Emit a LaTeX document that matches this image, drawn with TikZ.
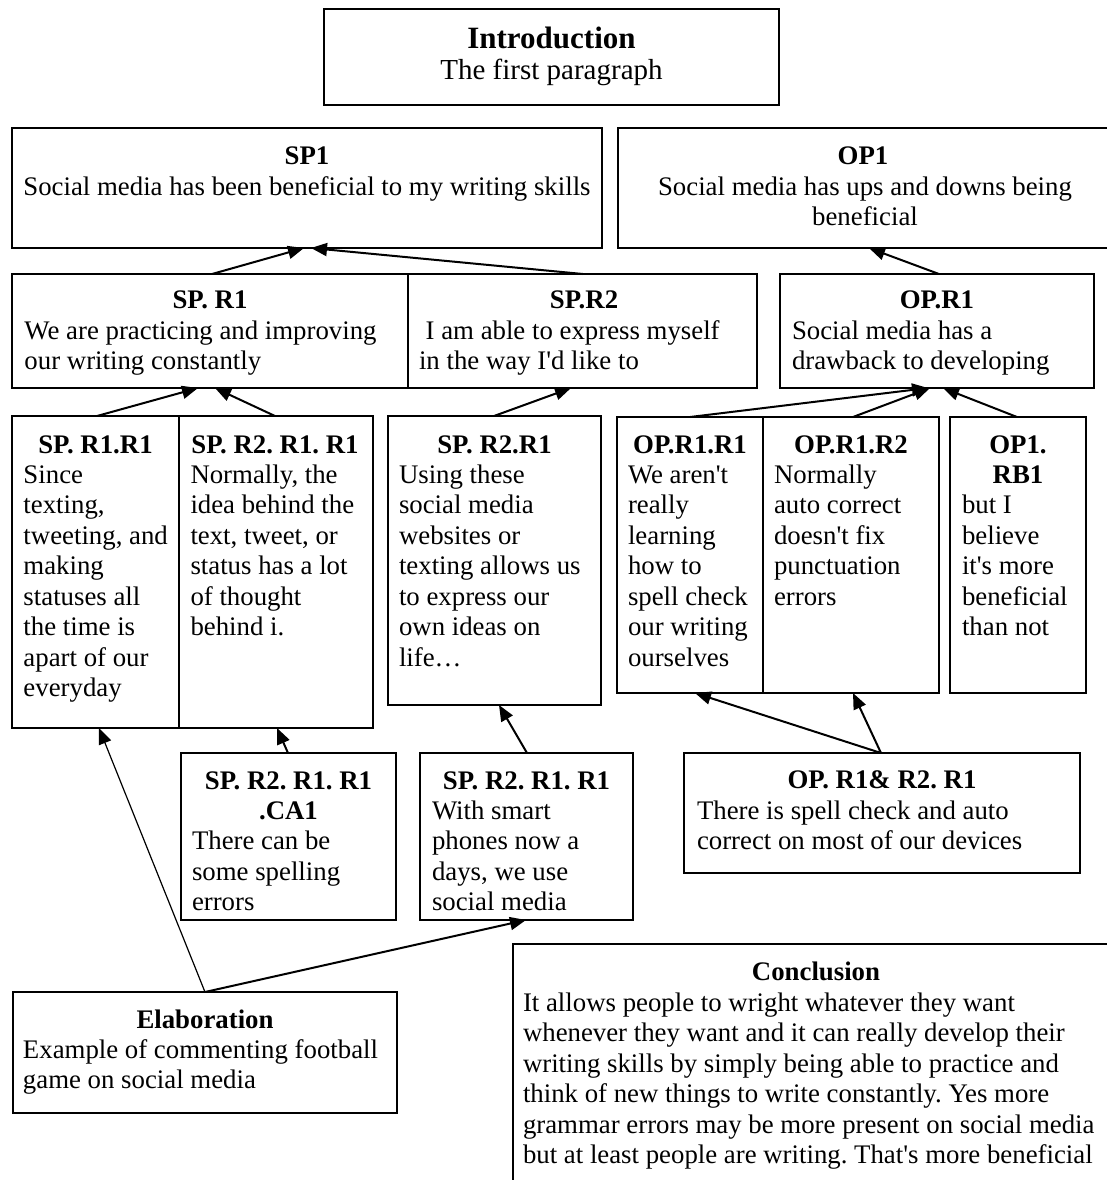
\documentclass[tikz,border=0pt]{standalone}
\usepackage{fontspec}
\setmainfont{Liberation Serif}[Ligatures=TeXOff]
\usetikzlibrary{fit,calc,arrows.meta}
\newcommand\bodylines[1]{\begin{tabular}[t]{@{}l@{}}#1\end{tabular}}
\newcommand\centlines[1]{\begin{tabular}[t]{@{}c@{}}#1\end{tabular}}
\frenchspacing
\begin{document}
\begin{tikzpicture}[x=0.5pt,y=-0.5pt,
  box/.style={draw, line width=1pt, inner sep=0pt, outer sep=0pt},
  thinbox/.style={box, line width=0.7pt},
  hd/.style={inner sep=0pt, outer sep=0pt, anchor=base, font=\fontsize{13.4}{15.25}\selectfont\bfseries},
  bd/.style={inner sep=0pt, outer sep=0pt, anchor=base west, font=\fontsize{13.4}{15.25}\selectfont},
  bdc/.style={bd, anchor=base},
  arr/.style={line width=1pt, -{Triangle[length=8pt,width=6.5pt]}},
  thinarr/.style={arr, line width=0.6pt}]
\useasboundingbox (0,0) rectangle (1107,1180);
\clip (0,0) rectangle (1107,1180);

% ---------- boxes ----------
\node[box, fit={(324,9) (779,105)}] (intro) {};
\node[box, fit={(12,128) (602,248)}] (sp1) {};
\node[box, fit={(618,128) (1116,248)}] (op1) {};
\node[thinbox, fit={(12,274) (408,388)}] (spr1) {};
\node[thinbox, fit={(408,274) (757,388)}] (spr2) {};
\node[box, fit={(780,274) (1094,388)}] (opr1) {};
\node[box, fit={(12,416) (179,728)}] (sprr1) {};
\node[box, fit={(179,416) (373,728)}] (sprr2) {};
\node[box, fit={(388,416) (601,705)}] (spr2r1) {};
\node[box, fit={(617,417) (763,693)}] (opr1r1) {};
\node[box, fit={(763,417) (939,693)}] (opr1r2) {};
\node[box, fit={(950,417) (1086,693)}] (op1rb1) {};
\node[box, fit={(181,753) (396,920)}] (ca1) {};
\node[box, fit={(420,753) (633,920)}] (spr2r1r1) {};
\node[box, fit={(684,753) (1080,873)}] (opboth) {};
\node[box, fit={(13,992) (397,1113)}] (elab) {};
\node[box, fit={(513,944) (1122,1210)}] (concl) {};

% ---------- texts ----------
\node[hd, font=\fontsize{15.5}{18}\selectfont\bfseries] (introh) at (551.5,48) {Introduction};
\node[bdc, font=\fontsize{14.5}{17}\selectfont] (introb) at (551.5,79) {The first paragraph};

\node[hd] (sp1h) at (307,164) {SP1};
\node[bdc] (sp1b) at (307,195) {Social media has been beneficial to my writing skills};

\node[hd] (op1h) at (863,164) {OP1};
\node[bdc] (op1b) at (865,195) {\centlines{Social media has ups and downs being\\beneficial}};

\node[hd] (spr1h) at (210,308) {SP. R1};
\node[bd] (spr1b) at (24.5,339) {\bodylines{We are practicing and improving\\our writing constantly}};

\node[hd] (spr2h) at (584,308) {SP.R2};
\node[bd] (spr2b) at (419,339) {\bodylines{\ I am able to express myself\\in the way I'd like to}};

\node[hd] (opr1h) at (937,308) {OP.R1};
\node[bd] (opr1b) at (792,339) {\bodylines{Social media has a\\drawback to developing}};

\node[hd] (sprr1h) at (95.5,453) {SP. R1.R1};
\node[bd] (sprr1b) at (23.5,483) {\bodylines{Since\\texting,\\tweeting, and\\making\\statuses all\\the time is\\apart of our\\everyday}};

\node[hd] (sprr2h) at (275,453) {SP. R2. R1. R1};
\node[bd] (sprr2b) at (190.5,483) {\bodylines{Normally, the\\idea behind the\\text, tweet, or\\status has a lot\\of thought\\behind i.}};

\node[hd] (spr2r1h) at (494.5,453) {SP. R2.R1};
\node[bd] (spr2r1b) at (399,483) {\bodylines{Using these\\social media\\websites or\\texting allows us\\to express our\\own ideas on\\life…}};

\node[hd] (opr1r1h) at (690,453) {OP.R1.R1};
\node[bd] (opr1r1b) at (628,483) {\bodylines{We aren't\\really\\learning\\how to\\spell check\\our writing\\ourselves}};

\node[hd] (opr1r2h) at (851,453) {OP.R1.R2};
\node[bd] (opr1r2b) at (774,483) {\bodylines{Normally\\auto correct\\doesn't fix\\punctuation\\errors}};

\node[hd] (op1rb1h) at (1018,453) {\centlines{OP1.\\RB1}};
\node[bd] (op1rb1b) at (962,513.5) {\bodylines{but I\\believe\\it's more\\beneficial\\than not}};

\node[hd] (ca1h) at (288.5,789) {\centlines{SP. R2. R1. R1\\.CA1}};
\node[bd] (ca1b) at (192,849.5) {\bodylines{There can be\\some spelling\\errors}};

\node[hd] (spr2r1r1h) at (526.5,789) {SP. R2. R1. R1};
\node[bd] (spr2r1r1b) at (432,819) {\bodylines{With smart\\phones now a\\days, we use\\social media}};

\node[hd] (opbothh) at (882,788) {OP. R1\& R2. R1};
\node[bd] (opbothb) at (697,819) {\bodylines{There is spell check and auto\\correct on most of our devices}};

\node[hd] (elabh) at (205,1028) {Elaboration};
\node[bd] (elabb) at (23,1058) {\bodylines{Example of commenting football\\game on social media}};

\node[hd] (conclh) at (816,980) {Conclusion};
\node[bd] (conclb) at (523,1011) {\bodylines{It allows people to wright whatever they want\\whenever they want and it can really develop their\\writing skills by simply being able to practice and\\think of new things to write constantly. Yes more\\grammar errors may be more present on social media\\but at least people are writing. That's more beneficial}};

% ---------- connectors ----------
\draw[arr] ($(spr1.north west)+(200,0)$) -- ($(sp1.south west)+(292,0)$);
\draw[arr] ($(spr2.north west)+(175,0)$) -- ($(sp1.south west)+(299,0)$);
\draw[arr] ($(opr1.north west)+(159,0)$) -- ($(op1.south west)+(251,0)$);
\draw[arr] ($(sprr1.north west)+(85,0)$) -- ($(spr1.south west)+(186,0)$);
\draw[arr] ($(sprr2.north west)+(96,0)$) -- ($(spr1.south west)+(203,0)$);
\draw[arr] ($(spr2r1.north west)+(106,0)$) -- ($(spr2.south west)+(163,0)$);
\draw[arr] ($(opr1r1.north west)+(73,0)$) -- ($(opr1.south west)+(148,0)$);
\draw[arr] ($(opr1r2.north west)+(90,0)$) -- ($(opr1.south west)+(150,0)$);
\draw[arr] ($(op1rb1.north west)+(67,0)$) -- ($(opr1.south west)+(163,0)$);
\draw[arr] ($(opboth.north west)+(197,0)$) -- ($(opr1r1.south west)+(78,0)$);
\draw[arr] ($(opboth.north west)+(197,0)$) -- ($(opr1r2.south west)+(90,0)$);
\draw[arr] ($(ca1.north west)+(107,0)$) -- ($(sprr2.south west)+(98,0)$);
\draw[arr] ($(spr2r1r1.north west)+(107,0)$) -- ($(spr2r1.south west)+(111,0)$);
\draw[thinarr] ($(elab.north west)+(192,0)$) -- ($(sprr1.south west)+(87,0)$);
\draw[arr] ($(elab.north west)+(192,0)$) -- ($(spr2r1r1.south west)+(106,0)$);
\end{tikzpicture}
\end{document}
